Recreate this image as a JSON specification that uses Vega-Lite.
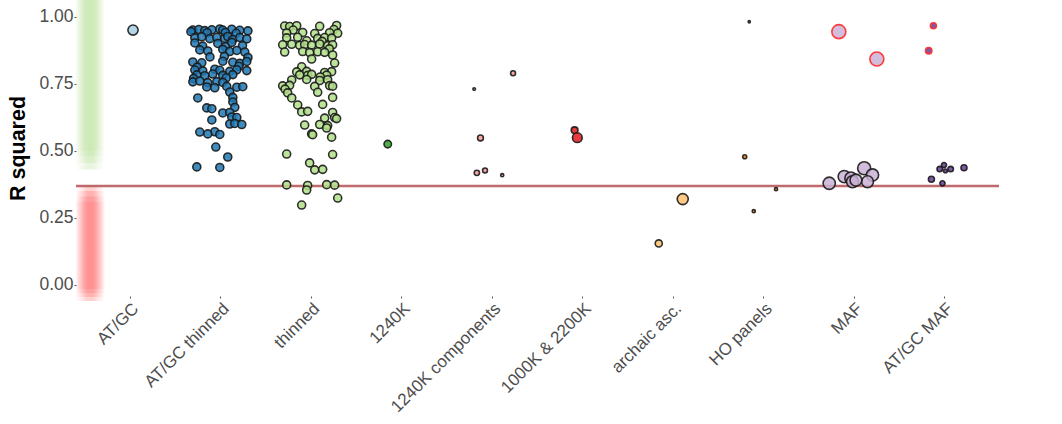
{
  "$schema": "https://vega.github.io/schema/vega-lite/v6.json",
  "width": 923,
  "height": 296,
  "autosize": {"type": "none"},
  "padding": {"left": 76, "top": 0, "right": 63, "bottom": 128},
  "config": {"view": {"stroke": null}, "font": "Liberation Sans"},
  "datasets": {
    "bands": [
      {"zone": "good", "lo": 0.50, "hi": 1.07},
      {"zone": "good", "lo": 0.48, "hi": 1.07},
      {"zone": "good", "lo": 0.455, "hi": 1.07},
      {"zone": "good", "lo": 0.43, "hi": 1.07},
      {"zone": "bad", "lo": -0.015, "hi": 0.31},
      {"zone": "bad", "lo": -0.03, "hi": 0.33},
      {"zone": "bad", "lo": -0.045, "hi": 0.35},
      {"zone": "bad", "lo": -0.06, "hi": 0.37}
    ],
    "thr": [{"r2": 0.369}],
    "pts": [
      {"g": "AT/GC", "jit": 0.03, "r2": 0.95, "n": 0.52, "o": "no"},
      {"g": "AT/GC thinned", "jit": -0.309, "r2": 0.950, "n": 0.32, "o": "no"},
      {"g": "AT/GC thinned", "jit": -0.243, "r2": 0.952, "n": 0.32, "o": "no"},
      {"g": "AT/GC thinned", "jit": -0.177, "r2": 0.948, "n": 0.32, "o": "no"},
      {"g": "AT/GC thinned", "jit": -0.099, "r2": 0.951, "n": 0.32, "o": "no"},
      {"g": "AT/GC thinned", "jit": -0.011, "r2": 0.954, "n": 0.32, "o": "no"},
      {"g": "AT/GC thinned", "jit": 0.022, "r2": 0.950, "n": 0.32, "o": "no"},
      {"g": "AT/GC thinned", "jit": 0.121, "r2": 0.953, "n": 0.32, "o": "no"},
      {"g": "AT/GC thinned", "jit": 0.210, "r2": 0.949, "n": 0.32, "o": "no"},
      {"g": "AT/GC thinned", "jit": 0.300, "r2": 0.947, "n": 0.32, "o": "no"},
      {"g": "AT/GC thinned", "jit": -0.330, "r2": 0.944, "n": 0.32, "o": "no"},
      {"g": "AT/GC thinned", "jit": -0.150, "r2": 0.940, "n": 0.32, "o": "no"},
      {"g": "AT/GC thinned", "jit": 0.050, "r2": 0.941, "n": 0.32, "o": "no"},
      {"g": "AT/GC thinned", "jit": 0.170, "r2": 0.938, "n": 0.32, "o": "no"},
      {"g": "AT/GC thinned", "jit": -0.287, "r2": 0.921, "n": 0.32, "o": "no"},
      {"g": "AT/GC thinned", "jit": -0.210, "r2": 0.925, "n": 0.32, "o": "no"},
      {"g": "AT/GC thinned", "jit": -0.121, "r2": 0.918, "n": 0.32, "o": "no"},
      {"g": "AT/GC thinned", "jit": -0.044, "r2": 0.923, "n": 0.32, "o": "no"},
      {"g": "AT/GC thinned", "jit": 0.044, "r2": 0.919, "n": 0.32, "o": "no"},
      {"g": "AT/GC thinned", "jit": 0.077, "r2": 0.926, "n": 0.32, "o": "no"},
      {"g": "AT/GC thinned", "jit": 0.133, "r2": 0.915, "n": 0.32, "o": "no"},
      {"g": "AT/GC thinned", "jit": 0.210, "r2": 0.922, "n": 0.32, "o": "no"},
      {"g": "AT/GC thinned", "jit": 0.287, "r2": 0.917, "n": 0.32, "o": "no"},
      {"g": "AT/GC thinned", "jit": -0.287, "r2": 0.902, "n": 0.32, "o": "no"},
      {"g": "AT/GC thinned", "jit": -0.033, "r2": 0.900, "n": 0.32, "o": "no"},
      {"g": "AT/GC thinned", "jit": 0.121, "r2": 0.904, "n": 0.32, "o": "no"},
      {"g": "AT/GC thinned", "jit": -0.200, "r2": 0.890, "n": 0.32, "o": "no"},
      {"g": "AT/GC thinned", "jit": 0.050, "r2": 0.888, "n": 0.32, "o": "no"},
      {"g": "AT/GC thinned", "jit": 0.240, "r2": 0.892, "n": 0.32, "o": "no"},
      {"g": "AT/GC thinned", "jit": -0.232, "r2": 0.876, "n": 0.32, "o": "no"},
      {"g": "AT/GC thinned", "jit": -0.144, "r2": 0.872, "n": 0.32, "o": "no"},
      {"g": "AT/GC thinned", "jit": 0.022, "r2": 0.878, "n": 0.32, "o": "no"},
      {"g": "AT/GC thinned", "jit": 0.099, "r2": 0.870, "n": 0.32, "o": "no"},
      {"g": "AT/GC thinned", "jit": 0.177, "r2": 0.874, "n": 0.32, "o": "no"},
      {"g": "AT/GC thinned", "jit": 0.265, "r2": 0.868, "n": 0.32, "o": "no"},
      {"g": "AT/GC thinned", "jit": -0.120, "r2": 0.850, "n": 0.32, "o": "no"},
      {"g": "AT/GC thinned", "jit": 0.040, "r2": 0.852, "n": 0.32, "o": "no"},
      {"g": "AT/GC thinned", "jit": 0.300, "r2": 0.848, "n": 0.32, "o": "no"},
      {"g": "AT/GC thinned", "jit": -0.309, "r2": 0.831, "n": 0.32, "o": "no"},
      {"g": "AT/GC thinned", "jit": -0.210, "r2": 0.828, "n": 0.32, "o": "no"},
      {"g": "AT/GC thinned", "jit": 0.022, "r2": 0.834, "n": 0.32, "o": "no"},
      {"g": "AT/GC thinned", "jit": 0.133, "r2": 0.830, "n": 0.32, "o": "no"},
      {"g": "AT/GC thinned", "jit": 0.210, "r2": 0.826, "n": 0.32, "o": "no"},
      {"g": "AT/GC thinned", "jit": 0.287, "r2": 0.833, "n": 0.32, "o": "no"},
      {"g": "AT/GC thinned", "jit": -0.260, "r2": 0.812, "n": 0.32, "o": "no"},
      {"g": "AT/GC thinned", "jit": 0.200, "r2": 0.815, "n": 0.32, "o": "no"},
      {"g": "AT/GC thinned", "jit": -0.287, "r2": 0.801, "n": 0.32, "o": "no"},
      {"g": "AT/GC thinned", "jit": -0.199, "r2": 0.798, "n": 0.32, "o": "no"},
      {"g": "AT/GC thinned", "jit": -0.066, "r2": 0.804, "n": 0.32, "o": "no"},
      {"g": "AT/GC thinned", "jit": -0.011, "r2": 0.800, "n": 0.32, "o": "no"},
      {"g": "AT/GC thinned", "jit": 0.099, "r2": 0.796, "n": 0.32, "o": "no"},
      {"g": "AT/GC thinned", "jit": 0.177, "r2": 0.802, "n": 0.32, "o": "no"},
      {"g": "AT/GC thinned", "jit": 0.287, "r2": 0.799, "n": 0.32, "o": "no"},
      {"g": "AT/GC thinned", "jit": -0.265, "r2": 0.783, "n": 0.32, "o": "no"},
      {"g": "AT/GC thinned", "jit": -0.177, "r2": 0.780, "n": 0.32, "o": "no"},
      {"g": "AT/GC thinned", "jit": -0.088, "r2": 0.786, "n": 0.32, "o": "no"},
      {"g": "AT/GC thinned", "jit": 0.022, "r2": 0.781, "n": 0.32, "o": "no"},
      {"g": "AT/GC thinned", "jit": 0.133, "r2": 0.784, "n": 0.32, "o": "no"},
      {"g": "AT/GC thinned", "jit": -0.300, "r2": 0.770, "n": 0.32, "o": "no"},
      {"g": "AT/GC thinned", "jit": 0.060, "r2": 0.772, "n": 0.32, "o": "no"},
      {"g": "AT/GC thinned", "jit": -0.309, "r2": 0.757, "n": 0.32, "o": "no"},
      {"g": "AT/GC thinned", "jit": -0.232, "r2": 0.760, "n": 0.32, "o": "no"},
      {"g": "AT/GC thinned", "jit": -0.144, "r2": 0.754, "n": 0.32, "o": "no"},
      {"g": "AT/GC thinned", "jit": -0.044, "r2": 0.758, "n": 0.32, "o": "no"},
      {"g": "AT/GC thinned", "jit": 0.022, "r2": 0.755, "n": 0.32, "o": "no"},
      {"g": "AT/GC thinned", "jit": -0.155, "r2": 0.738, "n": 0.32, "o": "no"},
      {"g": "AT/GC thinned", "jit": -0.066, "r2": 0.735, "n": 0.32, "o": "no"},
      {"g": "AT/GC thinned", "jit": 0.066, "r2": 0.740, "n": 0.32, "o": "no"},
      {"g": "AT/GC thinned", "jit": 0.177, "r2": 0.737, "n": 0.32, "o": "no"},
      {"g": "AT/GC thinned", "jit": 0.243, "r2": 0.739, "n": 0.32, "o": "no"},
      {"g": "AT/GC thinned", "jit": 0.099, "r2": 0.719, "n": 0.32, "o": "no"},
      {"g": "AT/GC thinned", "jit": -0.254, "r2": 0.697, "n": 0.32, "o": "no"},
      {"g": "AT/GC thinned", "jit": 0.133, "r2": 0.699, "n": 0.32, "o": "no"},
      {"g": "AT/GC thinned", "jit": 0.133, "r2": 0.682, "n": 0.32, "o": "no"},
      {"g": "AT/GC thinned", "jit": -0.155, "r2": 0.660, "n": 0.32, "o": "no"},
      {"g": "AT/GC thinned", "jit": -0.099, "r2": 0.657, "n": 0.32, "o": "no"},
      {"g": "AT/GC thinned", "jit": 0.155, "r2": 0.662, "n": 0.32, "o": "no"},
      {"g": "AT/GC thinned", "jit": 0.022, "r2": 0.641, "n": 0.32, "o": "no"},
      {"g": "AT/GC thinned", "jit": 0.099, "r2": 0.643, "n": 0.32, "o": "no"},
      {"g": "AT/GC thinned", "jit": 0.121, "r2": 0.626, "n": 0.32, "o": "no"},
      {"g": "AT/GC thinned", "jit": 0.177, "r2": 0.624, "n": 0.32, "o": "no"},
      {"g": "AT/GC thinned", "jit": -0.099, "r2": 0.615, "n": 0.32, "o": "no"},
      {"g": "AT/GC thinned", "jit": 0.099, "r2": 0.600, "n": 0.32, "o": "no"},
      {"g": "AT/GC thinned", "jit": 0.155, "r2": 0.602, "n": 0.32, "o": "no"},
      {"g": "AT/GC thinned", "jit": 0.232, "r2": 0.598, "n": 0.32, "o": "no"},
      {"g": "AT/GC thinned", "jit": -0.232, "r2": 0.570, "n": 0.32, "o": "no"},
      {"g": "AT/GC thinned", "jit": -0.066, "r2": 0.571, "n": 0.32, "o": "no"},
      {"g": "AT/GC thinned", "jit": -0.144, "r2": 0.563, "n": 0.32, "o": "no"},
      {"g": "AT/GC thinned", "jit": -0.011, "r2": 0.561, "n": 0.32, "o": "no"},
      {"g": "AT/GC thinned", "jit": -0.055, "r2": 0.514, "n": 0.32, "o": "no"},
      {"g": "AT/GC thinned", "jit": 0.077, "r2": 0.477, "n": 0.32, "o": "no"},
      {"g": "AT/GC thinned", "jit": -0.265, "r2": 0.440, "n": 0.32, "o": "no"},
      {"g": "AT/GC thinned", "jit": -0.011, "r2": 0.438, "n": 0.32, "o": "no"},
      {"g": "thinned", "jit": -0.294, "r2": 0.965, "n": 0.32, "o": "no"},
      {"g": "thinned", "jit": -0.239, "r2": 0.963, "n": 0.32, "o": "no"},
      {"g": "thinned", "jit": -0.161, "r2": 0.966, "n": 0.32, "o": "no"},
      {"g": "thinned", "jit": 0.093, "r2": 0.964, "n": 0.32, "o": "no"},
      {"g": "thinned", "jit": 0.280, "r2": 0.967, "n": 0.32, "o": "no"},
      {"g": "thinned", "jit": -0.200, "r2": 0.950, "n": 0.32, "o": "no"},
      {"g": "thinned", "jit": 0.250, "r2": 0.952, "n": 0.32, "o": "no"},
      {"g": "thinned", "jit": -0.272, "r2": 0.939, "n": 0.32, "o": "no"},
      {"g": "thinned", "jit": -0.095, "r2": 0.941, "n": 0.32, "o": "no"},
      {"g": "thinned", "jit": 0.038, "r2": 0.937, "n": 0.32, "o": "no"},
      {"g": "thinned", "jit": 0.203, "r2": 0.940, "n": 0.32, "o": "no"},
      {"g": "thinned", "jit": 0.292, "r2": 0.938, "n": 0.32, "o": "no"},
      {"g": "thinned", "jit": -0.272, "r2": 0.921, "n": 0.32, "o": "no"},
      {"g": "thinned", "jit": -0.150, "r2": 0.923, "n": 0.32, "o": "no"},
      {"g": "thinned", "jit": 0.071, "r2": 0.919, "n": 0.32, "o": "no"},
      {"g": "thinned", "jit": 0.148, "r2": 0.922, "n": 0.32, "o": "no"},
      {"g": "thinned", "jit": 0.225, "r2": 0.920, "n": 0.32, "o": "no"},
      {"g": "thinned", "jit": -0.050, "r2": 0.910, "n": 0.32, "o": "no"},
      {"g": "thinned", "jit": 0.120, "r2": 0.908, "n": 0.32, "o": "no"},
      {"g": "thinned", "jit": -0.316, "r2": 0.895, "n": 0.32, "o": "no"},
      {"g": "thinned", "jit": -0.216, "r2": 0.897, "n": 0.32, "o": "no"},
      {"g": "thinned", "jit": -0.128, "r2": 0.893, "n": 0.32, "o": "no"},
      {"g": "thinned", "jit": -0.073, "r2": 0.896, "n": 0.32, "o": "no"},
      {"g": "thinned", "jit": 0.004, "r2": 0.894, "n": 0.32, "o": "no"},
      {"g": "thinned", "jit": 0.093, "r2": 0.898, "n": 0.32, "o": "no"},
      {"g": "thinned", "jit": 0.181, "r2": 0.892, "n": 0.32, "o": "no"},
      {"g": "thinned", "jit": 0.236, "r2": 0.895, "n": 0.32, "o": "no"},
      {"g": "thinned", "jit": 0.200, "r2": 0.880, "n": 0.32, "o": "no"},
      {"g": "thinned", "jit": -0.294, "r2": 0.868, "n": 0.32, "o": "no"},
      {"g": "thinned", "jit": -0.095, "r2": 0.870, "n": 0.32, "o": "no"},
      {"g": "thinned", "jit": -0.018, "r2": 0.866, "n": 0.32, "o": "no"},
      {"g": "thinned", "jit": 0.071, "r2": 0.869, "n": 0.32, "o": "no"},
      {"g": "thinned", "jit": 0.148, "r2": 0.867, "n": 0.32, "o": "no"},
      {"g": "thinned", "jit": 0.236, "r2": 0.857, "n": 0.32, "o": "no"},
      {"g": "thinned", "jit": 0.004, "r2": 0.842, "n": 0.32, "o": "no"},
      {"g": "thinned", "jit": 0.258, "r2": 0.827, "n": 0.32, "o": "no"},
      {"g": "thinned", "jit": -0.106, "r2": 0.813, "n": 0.32, "o": "no"},
      {"g": "thinned", "jit": -0.161, "r2": 0.794, "n": 0.32, "o": "no"},
      {"g": "thinned", "jit": -0.051, "r2": 0.796, "n": 0.32, "o": "no"},
      {"g": "thinned", "jit": 0.148, "r2": 0.792, "n": 0.32, "o": "no"},
      {"g": "thinned", "jit": 0.225, "r2": 0.795, "n": 0.32, "o": "no"},
      {"g": "thinned", "jit": -0.128, "r2": 0.783, "n": 0.32, "o": "no"},
      {"g": "thinned", "jit": -0.040, "r2": 0.781, "n": 0.32, "o": "no"},
      {"g": "thinned", "jit": 0.004, "r2": 0.785, "n": 0.32, "o": "no"},
      {"g": "thinned", "jit": 0.170, "r2": 0.782, "n": 0.32, "o": "no"},
      {"g": "thinned", "jit": 0.100, "r2": 0.775, "n": 0.32, "o": "no"},
      {"g": "thinned", "jit": -0.216, "r2": 0.764, "n": 0.32, "o": "no"},
      {"g": "thinned", "jit": -0.051, "r2": 0.766, "n": 0.32, "o": "no"},
      {"g": "thinned", "jit": 0.093, "r2": 0.762, "n": 0.32, "o": "no"},
      {"g": "thinned", "jit": 0.181, "r2": 0.765, "n": 0.32, "o": "no"},
      {"g": "thinned", "jit": -0.316, "r2": 0.742, "n": 0.32, "o": "no"},
      {"g": "thinned", "jit": -0.239, "r2": 0.744, "n": 0.32, "o": "no"},
      {"g": "thinned", "jit": 0.038, "r2": 0.740, "n": 0.32, "o": "no"},
      {"g": "thinned", "jit": 0.203, "r2": 0.743, "n": 0.32, "o": "no"},
      {"g": "thinned", "jit": 0.236, "r2": 0.741, "n": 0.32, "o": "no"},
      {"g": "thinned", "jit": -0.290, "r2": 0.730, "n": 0.32, "o": "no"},
      {"g": "thinned", "jit": -0.261, "r2": 0.716, "n": 0.32, "o": "no"},
      {"g": "thinned", "jit": 0.071, "r2": 0.718, "n": 0.32, "o": "no"},
      {"g": "thinned", "jit": -0.216, "r2": 0.697, "n": 0.32, "o": "no"},
      {"g": "thinned", "jit": 0.236, "r2": 0.699, "n": 0.32, "o": "no"},
      {"g": "thinned", "jit": -0.150, "r2": 0.671, "n": 0.32, "o": "no"},
      {"g": "thinned", "jit": 0.126, "r2": 0.673, "n": 0.32, "o": "no"},
      {"g": "thinned", "jit": -0.106, "r2": 0.645, "n": 0.32, "o": "no"},
      {"g": "thinned", "jit": -0.040, "r2": 0.647, "n": 0.32, "o": "no"},
      {"g": "thinned", "jit": 0.236, "r2": 0.643, "n": 0.32, "o": "no"},
      {"g": "thinned", "jit": 0.148, "r2": 0.622, "n": 0.32, "o": "no"},
      {"g": "thinned", "jit": 0.258, "r2": 0.624, "n": 0.32, "o": "no"},
      {"g": "thinned", "jit": 0.280, "r2": 0.620, "n": 0.32, "o": "no"},
      {"g": "thinned", "jit": -0.073, "r2": 0.596, "n": 0.32, "o": "no"},
      {"g": "thinned", "jit": 0.093, "r2": 0.598, "n": 0.32, "o": "no"},
      {"g": "thinned", "jit": 0.181, "r2": 0.594, "n": 0.32, "o": "no"},
      {"g": "thinned", "jit": 0.170, "r2": 0.585, "n": 0.32, "o": "no"},
      {"g": "thinned", "jit": 0.004, "r2": 0.563, "n": 0.32, "o": "no"},
      {"g": "thinned", "jit": 0.015, "r2": 0.560, "n": 0.32, "o": "no"},
      {"g": "thinned", "jit": 0.225, "r2": 0.551, "n": 0.32, "o": "no"},
      {"g": "thinned", "jit": -0.272, "r2": 0.488, "n": 0.32, "o": "no"},
      {"g": "thinned", "jit": 0.236, "r2": 0.486, "n": 0.32, "o": "no"},
      {"g": "thinned", "jit": -0.018, "r2": 0.455, "n": 0.32, "o": "no"},
      {"g": "thinned", "jit": 0.038, "r2": 0.429, "n": 0.32, "o": "no"},
      {"g": "thinned", "jit": 0.126, "r2": 0.431, "n": 0.32, "o": "no"},
      {"g": "thinned", "jit": -0.272, "r2": 0.373, "n": 0.32, "o": "no"},
      {"g": "thinned", "jit": -0.040, "r2": 0.371, "n": 0.32, "o": "no"},
      {"g": "thinned", "jit": 0.170, "r2": 0.374, "n": 0.32, "o": "no"},
      {"g": "thinned", "jit": 0.258, "r2": 0.372, "n": 0.32, "o": "no"},
      {"g": "thinned", "jit": -0.051, "r2": 0.354, "n": 0.32, "o": "no"},
      {"g": "thinned", "jit": 0.292, "r2": 0.324, "n": 0.32, "o": "no"},
      {"g": "thinned", "jit": -0.106, "r2": 0.298, "n": 0.32, "o": "no"},
      {"g": "1240K", "jit": -0.155, "r2": 0.525, "n": 0.28, "o": "no"},
      {"g": "1240K components", "jit": 0.23, "r2": 0.789, "n": 0.12, "o": "no"},
      {"g": "1240K components", "jit": -0.20, "r2": 0.73, "n": 0.035, "o": "no"},
      {"g": "1240K components", "jit": -0.13, "r2": 0.548, "n": 0.17, "o": "no"},
      {"g": "1240K components", "jit": -0.17, "r2": 0.418, "n": 0.14, "o": "no"},
      {"g": "1240K components", "jit": -0.08, "r2": 0.427, "n": 0.12, "o": "no"},
      {"g": "1240K components", "jit": 0.11, "r2": 0.409, "n": 0.05, "o": "no"},
      {"g": "1000K & 2200K", "jit": -0.09, "r2": 0.577, "n": 0.22, "o": "no"},
      {"g": "1000K & 2200K", "jit": -0.06, "r2": 0.549, "n": 0.475, "o": "no"},
      {"g": "archaic asc.", "jit": 0.105, "r2": 0.32, "n": 0.61, "o": "no"},
      {"g": "archaic asc.", "jit": -0.16, "r2": 0.155, "n": 0.25, "o": "no"},
      {"g": "HO panels", "jit": -0.16, "r2": 0.981, "n": 0.025, "o": "no"},
      {"g": "HO panels", "jit": -0.21, "r2": 0.478, "n": 0.08, "o": "no"},
      {"g": "HO panels", "jit": 0.136, "r2": 0.357, "n": 0.05, "o": "no"},
      {"g": "HO panels", "jit": -0.11, "r2": 0.275, "n": 0.05, "o": "no"},
      {"g": "MAF", "jit": -0.17, "r2": 0.944, "n": 0.98, "o": "yes"},
      {"g": "MAF", "jit": 0.25, "r2": 0.842, "n": 0.98, "o": "yes"},
      {"g": "MAF", "jit": -0.276, "r2": 0.379, "n": 0.75, "o": "no"},
      {"g": "MAF", "jit": -0.110, "r2": 0.404, "n": 0.75, "o": "no"},
      {"g": "MAF", "jit": -0.036, "r2": 0.398, "n": 0.75, "o": "no"},
      {"g": "MAF", "jit": -0.019, "r2": 0.385, "n": 0.72, "o": "no"},
      {"g": "MAF", "jit": 0.110, "r2": 0.435, "n": 0.85, "o": "no"},
      {"g": "MAF", "jit": 0.202, "r2": 0.410, "n": 0.75, "o": "no"},
      {"g": "MAF", "jit": 0.147, "r2": 0.385, "n": 0.7, "o": "no"},
      {"g": "MAF", "jit": 0.019, "r2": 0.391, "n": 0.7, "o": "no"},
      {"g": "AT/GC MAF", "jit": -0.125, "r2": 0.966, "n": 0.18, "o": "yes"},
      {"g": "AT/GC MAF", "jit": -0.177, "r2": 0.873, "n": 0.2, "o": "yes"},
      {"g": "AT/GC MAF", "jit": -0.055, "r2": 0.432, "n": 0.15, "o": "no"},
      {"g": "AT/GC MAF", "jit": -0.008, "r2": 0.447, "n": 0.13, "o": "no"},
      {"g": "AT/GC MAF", "jit": 0.008, "r2": 0.425, "n": 0.07, "o": "no"},
      {"g": "AT/GC MAF", "jit": 0.066, "r2": 0.432, "n": 0.15, "o": "no"},
      {"g": "AT/GC MAF", "jit": 0.213, "r2": 0.437, "n": 0.18, "o": "no"},
      {"g": "AT/GC MAF", "jit": -0.147, "r2": 0.394, "n": 0.18, "o": "no"},
      {"g": "AT/GC MAF", "jit": -0.025, "r2": 0.379, "n": 0.13, "o": "no"}
    ]
  },
  "layer": [
    {
      "data": {"name": "bands"},
      "transform": [{"filter": "datum.zone === 'good'"}],
      "mark": {
        "type": "rect",
        "opacity": 0.4,
        "fill": {
          "gradient": "linear", "x1": 0, "y1": 0, "x2": 1, "y2": 0,
          "stops": [
            {"offset": 0, "color": "rgba(198,230,172,0)"},
            {"offset": 0.2, "color": "rgba(198,230,172,0.4)"},
            {"offset": 0.38, "color": "rgba(198,230,172,0.92)"},
            {"offset": 0.5, "color": "rgba(198,230,172,1)"},
            {"offset": 0.62, "color": "rgba(198,230,172,0.92)"},
            {"offset": 0.8, "color": "rgba(198,230,172,0.4)"},
            {"offset": 1, "color": "rgba(198,230,172,0)"}
          ]
        }
      },
      "encoding": {
        "x": {"datum": 0.39, "type": "quantitative", "scale": {"domain": [0.4, 10.6], "nice": false, "zero": false}, "axis": null},
        "x2": {"datum": 0.715},
        "y": {"field": "lo", "type": "quantitative", "scale": {"domain": [-0.041, 1.062], "nice": false, "zero": false}},
        "y2": {"field": "hi"}
      }
    },
    {
      "data": {"name": "bands"},
      "transform": [{"filter": "datum.zone === 'bad'"}],
      "mark": {
        "type": "rect",
        "opacity": 0.38,
        "fill": {
          "gradient": "linear", "x1": 0, "y1": 0, "x2": 1, "y2": 0,
          "stops": [
            {"offset": 0, "color": "rgba(255,127,127,0)"},
            {"offset": 0.2, "color": "rgba(255,127,127,0.4)"},
            {"offset": 0.38, "color": "rgba(255,127,127,0.92)"},
            {"offset": 0.5, "color": "rgba(255,127,127,1)"},
            {"offset": 0.62, "color": "rgba(255,127,127,0.92)"},
            {"offset": 0.8, "color": "rgba(255,127,127,0.4)"},
            {"offset": 1, "color": "rgba(255,127,127,0)"}
          ]
        }
      },
      "encoding": {
        "x": {"datum": 0.395, "type": "quantitative", "scale": {"domain": [0.4, 10.6], "nice": false, "zero": false}, "axis": null},
        "x2": {"datum": 0.72},
        "y": {"field": "lo", "type": "quantitative", "scale": {"domain": [-0.041, 1.062], "nice": false, "zero": false}},
        "y2": {"field": "hi"}
      }
    },
    {
      "data": {"name": "thr"},
      "mark": {"type": "rule", "color": "#b85a5c", "strokeWidth": 2.5, "opacity": 0.9},
      "encoding": {
        "y": {"field": "r2", "type": "quantitative", "scale": {"domain": [-0.041, 1.062], "nice": false, "zero": false}}
      }
    },
    {
      "data": {"name": "pts"},
      "mark": {"type": "point", "shape": "circle", "filled": false, "strokeWidth": 1.6, "fillOpacity": 0.85, "strokeOpacity": 0.9},
      "encoding": {
        "x": {
          "field": "g", "type": "nominal",
          "sort": ["AT/GC", "AT/GC thinned", "thinned", "1240K", "1240K components", "1000K & 2200K", "archaic asc.", "HO panels", "MAF", "AT/GC MAF"],
          "scale": {"paddingInner": 0, "paddingOuter": 0.1},
          "axis": {
            "title": null, "domain": false, "grid": false,
            "labelAngle": -45, "labelAlign": "right", "labelBaseline": "top",
            "labelFont": "Liberation Sans", "labelFontSize": 17, "labelColor": "#4d4d4d", "labelPadding": 2,
            "tickSize": 2, "tickColor": "#555555", "tickWidth": 1
          }
        },
        "xOffset": {"field": "jit", "type": "quantitative", "scale": {"domain": [-0.5, 0.5], "nice": false, "zero": false}},
        "y": {
          "field": "r2", "type": "quantitative",
          "scale": {"domain": [-0.041, 1.062], "nice": false, "zero": false},
          "axis": {
            "title": "R squared", "values": [0, 0.25, 0.5, 0.75, 1], "format": ".2f",
            "domain": false, "grid": false,
            "labelFont": "Liberation Sans", "labelFontSize": 17.5, "labelColor": "#4d4d4d", "labelPadding": 1,
            "tickSize": 2, "tickColor": "#555555",
            "titleFont": "Liberation Sans", "titleFontSize": 21.5, "titleFontWeight": "bold", "titleColor": "#000000",
            "titleX": -47, "titleY": 148
          }
        },
        "fill": {
          "field": "g", "type": "nominal", "legend": null,
          "scale": {
            "domain": ["AT/GC", "AT/GC thinned", "thinned", "1240K", "1240K components", "1000K & 2200K", "archaic asc.", "HO panels", "MAF", "AT/GC MAF"],
            "range": ["#a6cee3", "#1f78b4", "#b2df8a", "#33a02c", "#fb9a99", "#e31a1c", "#fdbf6f", "#ff7f00", "#cab2d6", "#6a3d9a"]
          }
        },
        "stroke": {
          "field": "o", "type": "nominal", "legend": null,
          "scale": {"domain": ["no", "yes"], "range": ["#1a1a1a", "#ff2a2a"]}
        },
        "size": {"field": "n", "type": "quantitative", "legend": null, "scale": {"domain": [0, 1], "range": [0, 200], "zero": true}}
      }
    }
  ],
  "resolve": {"scale": {"x": "independent"}}
}
